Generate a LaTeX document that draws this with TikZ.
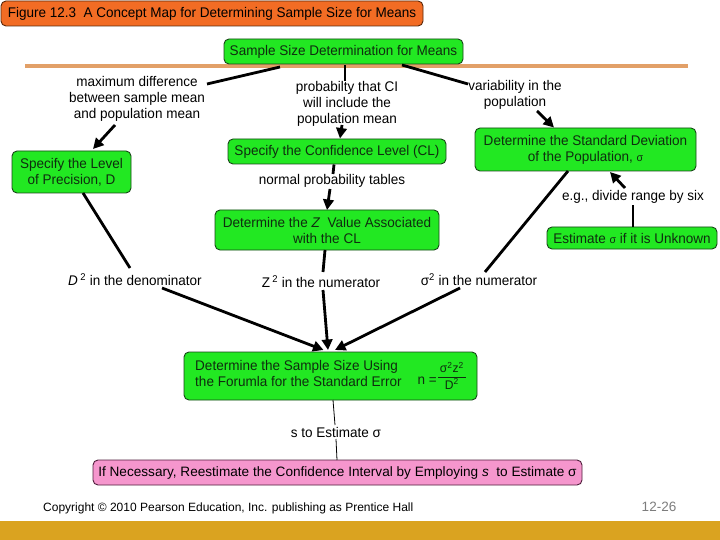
\documentclass[tikz,border=0pt]{standalone}
\usepackage{fontspec}
\setmainfont{Liberation Sans}
\newfontfamily\mapfam[FakeStretch=0.965]{Liberation Sans}
\usetikzlibrary{arrows.meta,calc}
\definecolor{ggreen}{RGB}{34,232,34}
\definecolor{gborder}{RGB}{25,70,25}
\definecolor{gtext}{RGB}{15,45,15}
\definecolor{torange}{RGB}{242,108,36}
\definecolor{tborder}{RGB}{90,40,10}
\definecolor{pinkf}{RGB}{245,150,205}
\definecolor{pborder}{RGB}{80,30,60}
\definecolor{tanline}{RGB}{226,160,104}
\definecolor{goldbar}{RGB}{218,163,32}
\definecolor{pgnum}{RGB}{125,125,125}
\tikzset{
  mapfont/.style={font=\mapfam\fontsize{14}{16}\selectfont},
  gbox/.style={mapfont, draw=gborder, fill=ggreen, text=gtext, rounded corners=5pt,
    line width=0.9pt, align=center, inner sep=2pt},
  lbl/.style={mapfont, align=center, inner sep=0pt, text=black},
  conn/.style={line width=2.8pt, draw=black},
  arr/.style={conn, -{Triangle[length=10.5pt,width=10.5pt]}},
  thinconn/.style={line width=0.8pt, draw=black}
}
\begin{document}
\begin{tikzpicture}[x=1pt,y=-1pt]
\useasboundingbox (0,0) rectangle (720,540);
\fill[white] (0,0) rectangle (720,540);
% bottom bar
\fill[goldbar] (0,521) rectangle (720,540);
% separator line
\draw[tanline, line width=3.2pt] (25,66) -- (688,66);
% title
\node[mapfont, draw=tborder, fill=torange, rounded corners=5pt, line width=0.9pt,
  minimum width=422pt, minimum height=25pt, inner sep=2pt] (title) at (212,13.5)
  {Figure 12.3\ \ A Concept Map for Determining Sample Size for Means};
% nodes
\node[gbox, minimum width=239pt, minimum height=25pt] (top) at (343.5,51.5) {Sample Size Determination for Means};
\node[gbox, minimum width=119pt, minimum height=42pt] (level) at (71.5,172) {Specify the Level\\of Precision, D};
\node[gbox, minimum width=218pt, minimum height=25pt] (cl) at (337,151.5) {Specify the Confidence Level (CL)};
\node[gbox, minimum width=221pt, minimum height=43pt] (sd) at (585.5,149.5) {Determine the Standard Deviation\\of the Population, {\fontsize{11}{12}\selectfont σ}};
\node[gbox, minimum width=224pt, minimum height=40pt] (zval) at (327,230) {Determine the \textit{Z}\ \ Value Associated\\with the CL};
\node[gbox, minimum width=170pt, minimum height=22pt] (est) at (632,238) {Estimate {\fontsize{11}{12}\selectfont σ} if it is Unknown};
\node[gbox, minimum width=293pt, minimum height=48pt] (ss) at (330.5,376)
  {\begin{tabular}[c]{@{}l@{}}Determine the Sample Size Using\\the Forumla for the Standard Error\end{tabular}\hspace{16pt}\raisebox{-6pt}{n =}\hspace{1pt}\raisebox{-2pt}{\fontsize{12.5}{13}\selectfont\begin{tabular}[c]{@{\hspace{2pt}}c@{\hspace{2pt}}}σ\textsuperscript{2}z\textsuperscript{2}\\[0pt]\hline\rule{0pt}{12pt}D\textsuperscript{2}\end{tabular}}};
\node[font=\fontsize{13.6}{16}\selectfont, draw=pborder, fill=pinkf, text=black, rounded corners=5pt, line width=0.9pt,
  minimum width=489pt, minimum height=25pt, inner sep=2pt] (pink) at (337.5,472.5)
  {If Necessary, Reestimate the Confidence Interval by Employing \textit{s}\ \ to Estimate σ};
% labels
\node[lbl] (maxdiff) at (137,99) {maximum difference\\between sample mean\\and population mean};
\node[lbl] (prob) at (347,104) {probabilty that CI\\will include the\\population mean};
\node[lbl] (var) at (515,94.5) {variability in the\\population};
\node[lbl] (normal) at (332,181) {normal probability tables};
\node[lbl] (egdiv) at (633,197) {e.g., divide range by six};
\node[lbl] (d2) at (135,280) {\textit{D}\,\textsuperscript{2} in the denominator};
\node[lbl] (z2) at (321,282) {Z\,\textsuperscript{2} in the numerator};
\node[lbl] (s2) at (479,280) {σ\textsuperscript{2} in the numerator};
\node[lbl] (sest) at (336,432) {s to Estimate σ};
% footer
\node[font=\fontsize{12}{14}\selectfont, anchor=west, inner sep=0pt] (copy) at (43,508) {Copyright © 2010 Pearson Education, Inc. publishing as Prentice Hall};
\node[font=\fontsize{13.5}{15}\selectfont, text=pgnum, inner sep=0pt] (pg) at (659,507) {12-26};
% connectors
\draw[conn] ([shift={(-63.5,15.5)}]top.center) -- ([shift={(70,-15)}]maxdiff.center);
\draw[arr] ([shift={(-22,26)}]maxdiff.center) -- ([shift={(21.5,-23)}]level.center);
\draw[conn] ([shift={(1.5,13.5)}]top.center) -- ([shift={(-2,-23)}]prob.center);
\draw[arr] ([shift={(-5,21)}]prob.center) -- ([shift={(3,-13)}]cl.center);
\draw[conn] ([shift={(-3,13)}]cl.center) -- ([shift={(1,-7)}]normal.center);
\draw[arr] ([shift={(-2,8)}]normal.center) -- ([shift={(0,-20)}]zval.center);
\draw[conn] ([shift={(58.5,13.5)}]top.center) -- ([shift={(-47,-10.5)}]var.center);
\draw[arr] ([shift={(22,16.5)}]var.center) -- ([shift={(-31.5,-22)}]sd.center);
\draw[arr] ([shift={(-8,-9)}]egdiv.center) -- ([shift={(24.5,22.5)}]sd.center);
\draw[conn] ([shift={(1,-11)}]est.center) -- ([shift={(0,8)}]egdiv.center);
\draw[conn] ([shift={(11.5,21)}]level.center) -- ([shift={(-5,-12)}]d2.center);
\draw[conn] ([shift={(-2,20)}]zval.center) -- ([shift={(2,-10)}]z2.center);
\draw[conn] ([shift={(-17.5,21.5)}]sd.center) -- ([shift={(6,-8)}]s2.center);
\draw[arr] ([shift={(27,8)}]d2.center) -- ([shift={(-7,-26)}]ss.center);
\draw[arr] ([shift={(2,8)}]z2.center) -- ([shift={(-2.5,-26)}]ss.center);
\draw[arr] ([shift={(-19,8)}]s2.center) -- ([shift={(4.5,-26)}]ss.center);
\draw[thinconn] ([shift={(2.5,24)}]ss.center) -- ([shift={(-1,-7)}]sest.center);
\draw[thinconn] ([shift={(0,7)}]sest.center) -- ([shift={(-0.5,-12.5)}]pink.center);
\end{tikzpicture}
\end{document}
